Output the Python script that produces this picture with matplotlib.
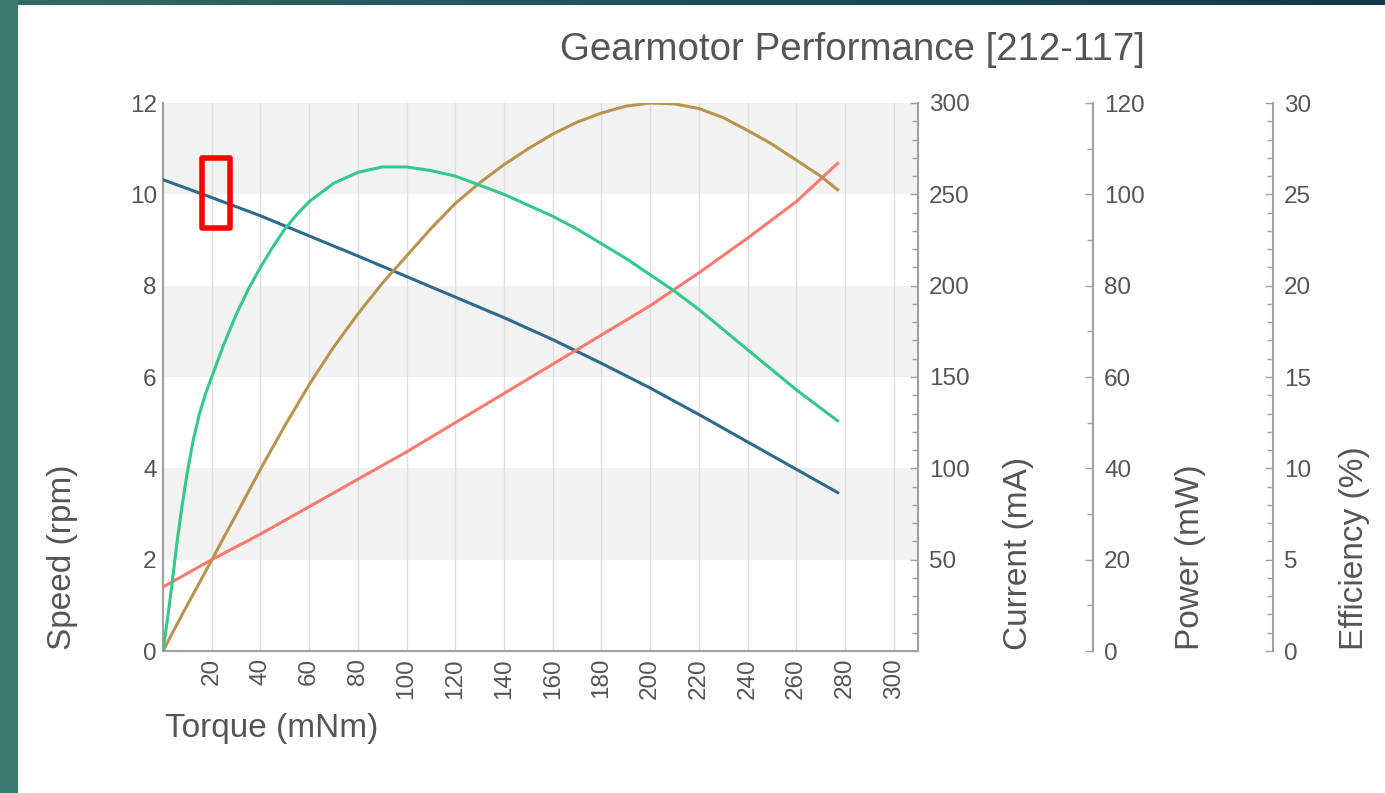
import numpy as np
import matplotlib.pyplot as plt
from matplotlib.patches import Rectangle
from matplotlib.colors import LinearSegmentedColormap
from matplotlib.ticker import MultipleLocator

plt.rcParams['font.family'] = ['Liberation Sans', 'DejaVu Sans']

# values
torque_coarse = [0, 20, 40, 60, 80, 100, 120, 140, 160, 180, 200, 220, 240, 260, 277]
speed_rpm = [10.32, 9.93, 9.53, 9.09, 8.65, 8.20, 7.75, 7.30, 6.82, 6.30, 5.76, 5.18, 4.58, 3.98, 3.47]
current_ma = [35, 50, 64, 79, 94, 109, 125, 141, 157, 173, 189, 207, 226, 246, 267]

torque_pow = [0, 5, 10, 15, 20, 25, 30, 40, 50, 60, 70, 80, 90, 100, 110, 120, 130, 140, 150,
              160, 170, 180, 190, 200, 210, 220, 230, 240, 250, 260, 270, 277]
power_mw = [0, 5.1, 10.1, 15.0, 19.9, 24.9, 29.8, 39.8, 49.3, 58.3, 66.5, 73.8, 80.5, 86.5,
            92.5, 98.0, 102.5, 106.5, 110.0, 113.2, 115.8, 117.8, 119.3, 120.0, 119.8, 118.8,
            116.8, 114.0, 111.0, 107.5, 104.0, 101.0]

torque_eff = [0, 2, 4, 6, 8, 10, 12.5, 15, 17.5, 20, 25, 30, 35, 40, 45, 50, 55, 60, 70, 80,
              90, 100, 110, 120, 130, 140, 150, 160, 170, 180, 190, 200, 210, 220, 230, 240,
              250, 260, 270, 277]
efficiency_pct = [0, 1.9, 4.0, 6.2, 8.1, 9.8, 11.6, 13.0, 14.1, 15.0, 16.8, 18.4, 19.8, 21.0,
                  22.1, 23.1, 23.9, 24.6, 25.6, 26.2, 26.5, 26.5, 26.3, 26.0, 25.5, 25.0, 24.4,
                  23.8, 23.1, 22.3, 21.5, 20.6, 19.7, 18.7, 17.6, 16.5, 15.4, 14.3, 13.3, 12.6]

x_ticks = list(range(20, 301, 20))

c_speed = '#2d6b8c'
c_current = '#fa7b6e'
c_power = '#b8944c'
c_eff = '#33c98b'
txt = '#555555'
spine_c = '#a0a0a0'

W, H = 1385, 793
fig = plt.figure(figsize=(W / 100, H / 100), dpi=100)
fig.patch.set_facecolor('white')

# frame decoration: teal strip on the left, gradient strip on top
fig.patches.append(Rectangle((0, 0), 18 / W, 1, transform=fig.transFigure,
                             facecolor='#3b776d', edgecolor='none', zorder=0))
top = fig.add_axes([0, 1 - 5 / H, 1, 5 / H])
grad = LinearSegmentedColormap.from_list('g', ['#2f6b66', '#1d4f5a', '#0f3a4e'])
top.imshow(np.linspace(0, 1, 256)[None, :], aspect='auto', cmap=grad)
top.axis('off')

ax_l, ax_r, ax_b, ax_t = 163, 918, 651, 103
ax = fig.add_axes([ax_l / W, 1 - ax_b / H, (ax_r - ax_l) / W, (ax_b - ax_t) / H])
ax.set_xlim(0, 310)
ax.set_ylim(0, 12)

for lo in (2, 6, 10):
    ax.axhspan(lo, lo + 2, color='#f2f2f2', zorder=0, lw=0)
for xt in x_ticks:
    ax.axvline(xt, color='#dedede', lw=1, zorder=0.5)

ax.set_xticks(x_ticks)
ax.set_xticklabels([str(t) for t in x_ticks], rotation=90)
ax.set_yticks(range(0, 13, 2))
ax.tick_params(axis='both', length=0, labelsize=17.5, colors=txt, pad=4.5)
ax.tick_params(axis='x', pad=5)
for s in ('top', 'right'):
    ax.spines[s].set_visible(False)
for s in ('left', 'bottom'):
    ax.spines[s].set_color(spine_c)
    ax.spines[s].set_linewidth(1.5)

ax.plot(torque_coarse, speed_rpm, color=c_speed, lw=2.2, zorder=3)


def side_axis(offset, ymax, major, minor):
    a = ax.twinx()
    a.set_ylim(0, ymax)
    a.spines['right'].set_position(('axes', offset))
    a.spines['right'].set_color(spine_c)
    a.spines['right'].set_linewidth(1.5)
    for s in ('top', 'left', 'bottom'):
        a.spines[s].set_visible(False)
    a.yaxis.set_major_locator(MultipleLocator(major))
    a.yaxis.set_minor_locator(MultipleLocator(minor))
    a.tick_params(axis='y', which='major', direction='in', length=6, width=1,
                  color=spine_c, labelsize=17.5, labelcolor=txt, pad=8)
    a.tick_params(axis='y', which='minor', direction='in', length=4, width=1, color=spine_c)
    return a


ax_cur = side_axis(1.0, 300, 50, 10)
ax_cur.set_yticks(range(50, 301, 50))
ax_cur.set_yticklabels([str(v) for v in range(50, 301, 50)])
ax_pow = side_axis((1093 - ax_l) / (ax_r - ax_l), 120, 20, 10)
ax_eff = side_axis((1273 - ax_l) / (ax_r - ax_l), 30, 5, 1)

ax_cur.plot(torque_coarse, current_ma, color=c_current, lw=2.2, zorder=3)
ax_pow.plot(torque_pow, power_mw, color=c_power, lw=2.2, zorder=3)
ax_eff.plot(torque_eff, efficiency_pct, color=c_eff, lw=2.2, zorder=3)

# highlight box drawn on the reference
ax.add_patch(Rectangle((16, 9.27), 11.5, 1.53, fill=False, edgecolor='#ff0000',
                       lw=4, joinstyle='round', zorder=6, clip_on=False))

label_kw = dict(rotation=90, va='bottom', ha='center', fontsize=24, color=txt)
fig.text(62 / W, 1 - 650 / H, 'Speed (rpm)', **label_kw)
fig.text(1018 / W, 1 - 650 / H, 'Current (mA)', **label_kw)
fig.text(1190 / W, 1 - 650 / H, 'Power (mW)', **label_kw)
fig.text(1355 / W, 1 - 650 / H, 'Efficiency (%)', **label_kw)
fig.text(165 / W, 1 - 728 / H, 'Torque (mNm)', va='center', ha='left', fontsize=24, color=txt)
fig.text(560 / W, 1 - 50 / H, 'Gearmotor Performance [212-117]', va='center', ha='left',
         fontsize=27.7, color=txt)

fig.savefig('out.png', dpi=100)
